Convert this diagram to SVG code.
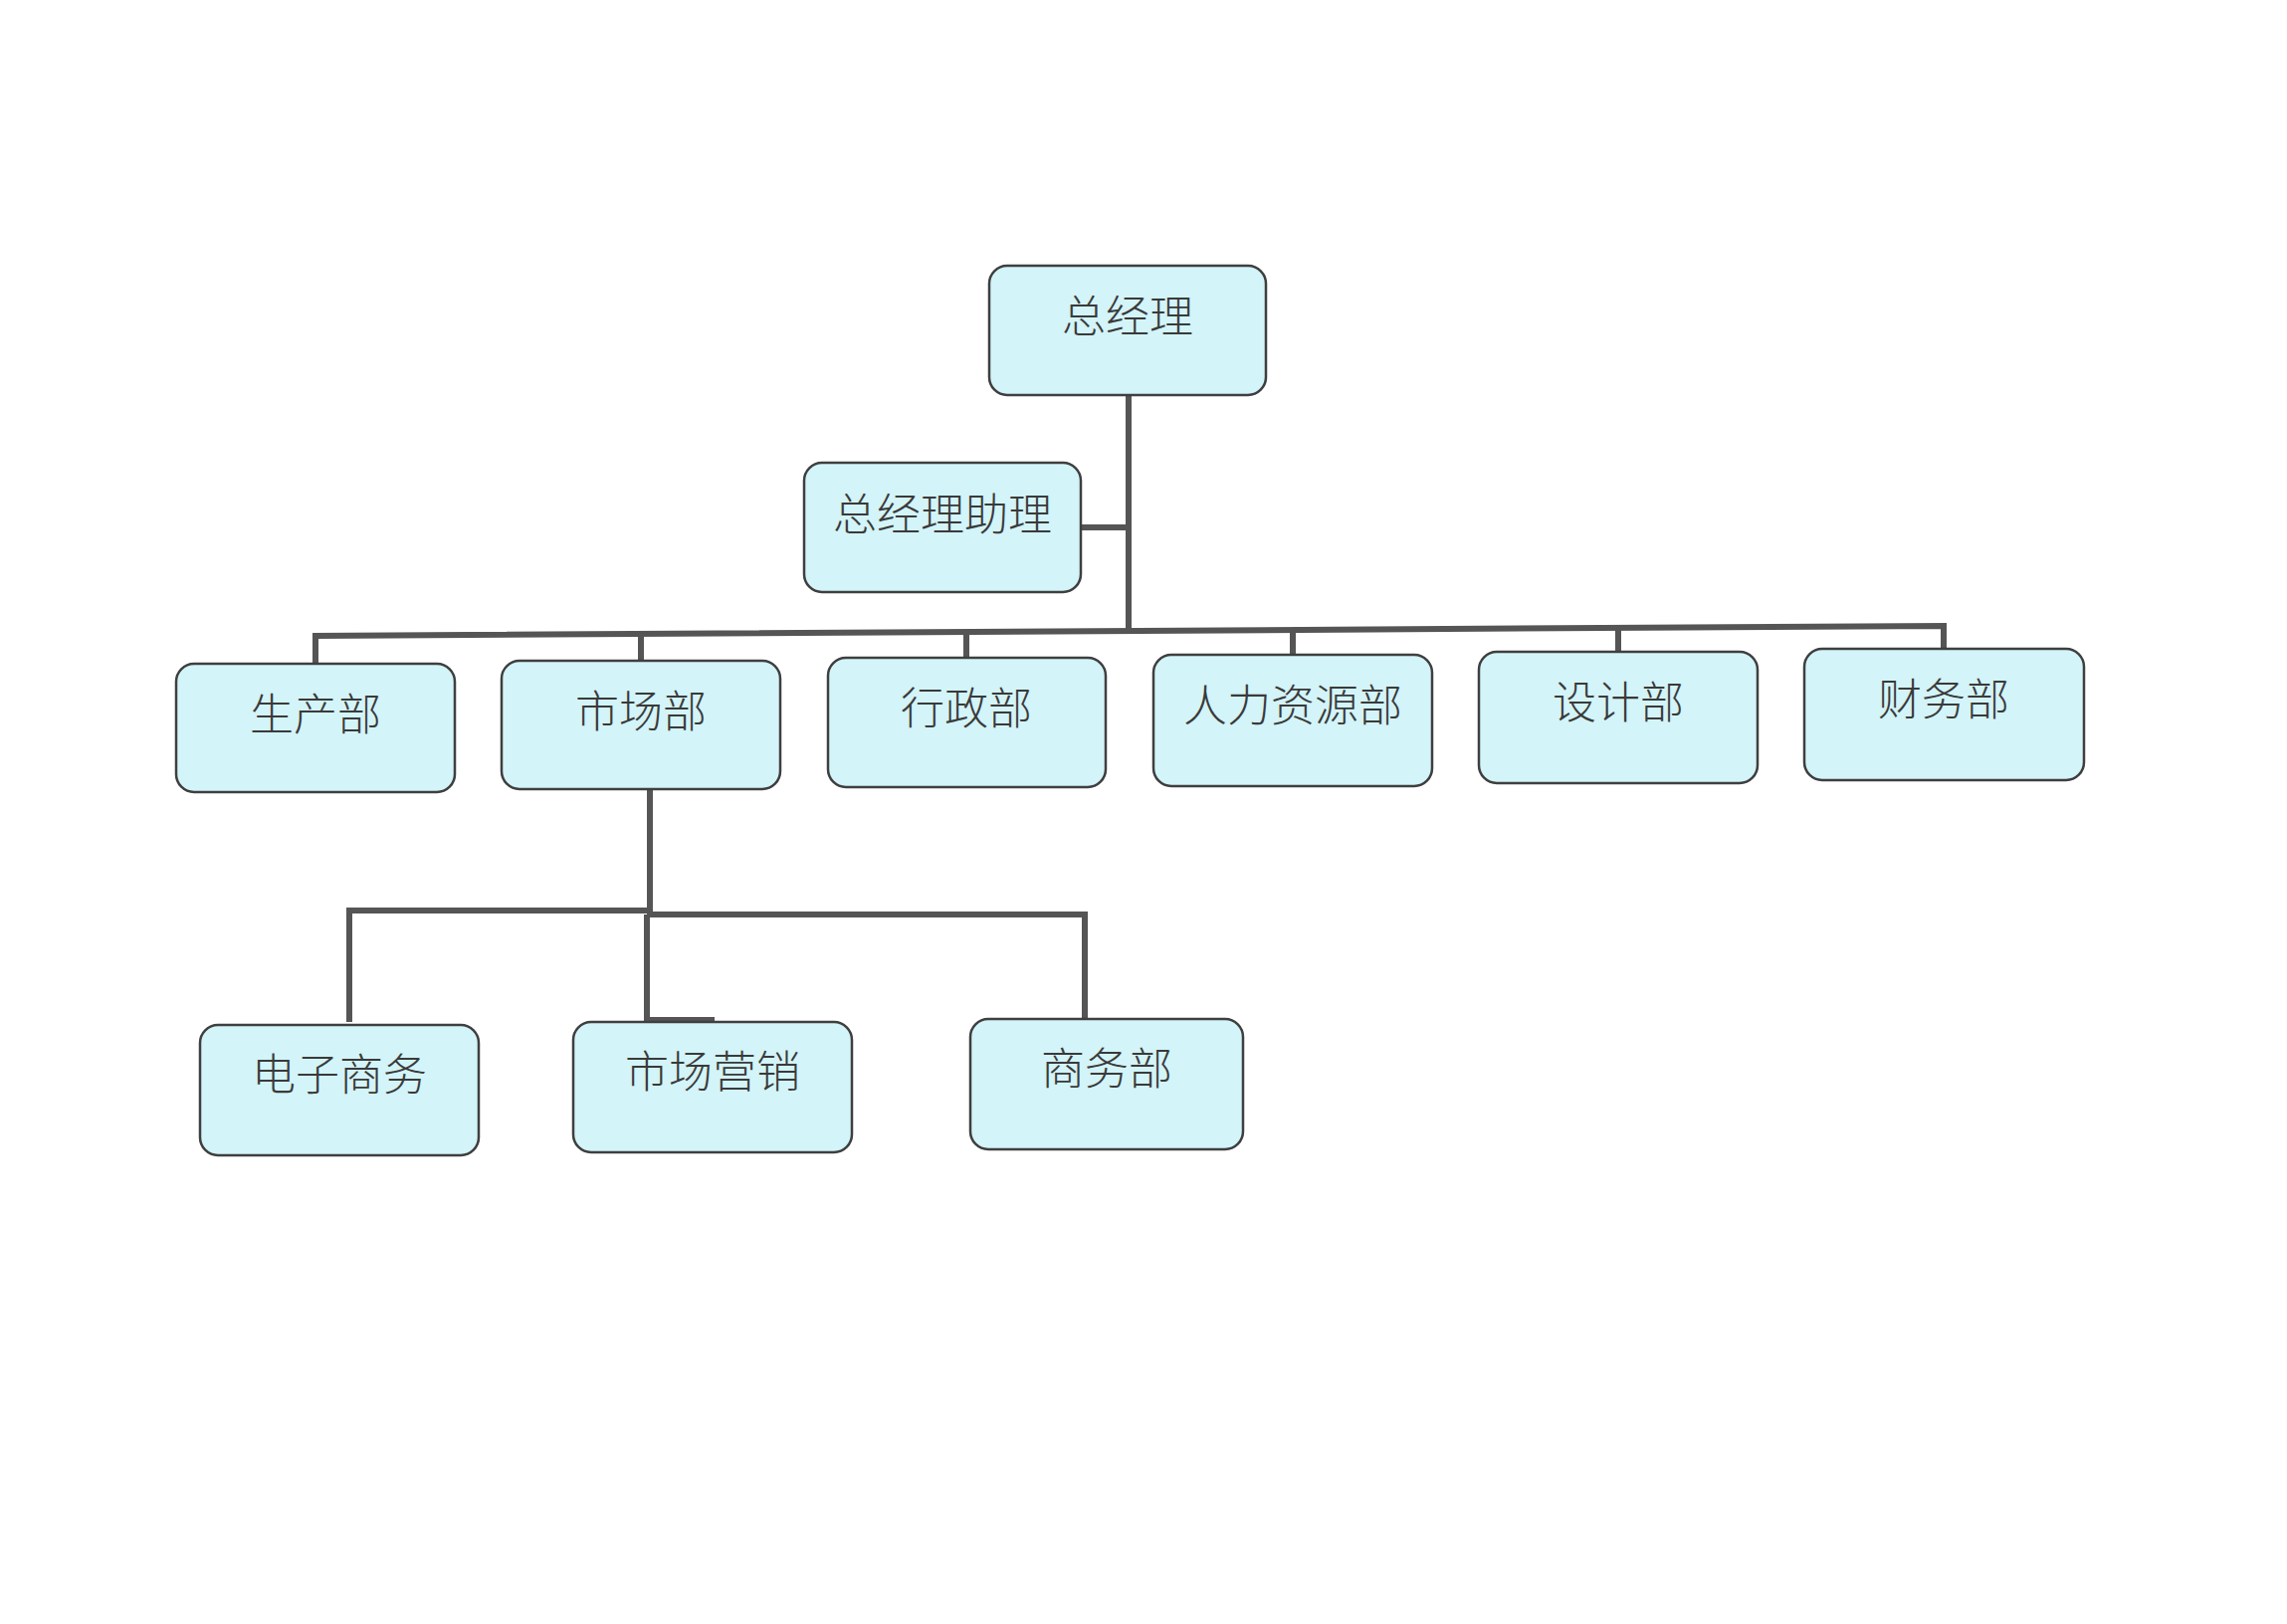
<svg xmlns="http://www.w3.org/2000/svg" width="2298" height="1632" viewBox="0 0 2298 1632">
<style>
.box{fill:#d3f4f8;stroke:#3f3f3f;stroke-width:2.5}
.lbl{font-family:"Noto Sans CJK SC","Noto Sans CJK TC",sans-serif;font-size:44px;fill:#3a3a3a;text-anchor:middle;dominant-baseline:central;font-weight:300}
.con{fill:none;stroke:#555;stroke-width:6;stroke-linejoin:miter;stroke-linecap:butt}
</style>
<rect width="2298" height="1632" fill="#ffffff"/>
<g id="connectors">
<path class="con" d="M1134,397 V636"/>
<path class="con" d="M1086,530 H1134"/>
<path class="con" d="M317,667 V639 L1953,629 V652"/>
<path class="con" d="M644,664 V637"/>
<path class="con" d="M971,661 V635"/>
<path class="con" d="M1299,658 V633"/>
<path class="con" d="M1626,655 V631"/>
<path class="con" d="M653,793 V919"/>
<path class="con" d="M351,1027 V915 H653"/>
<path class="con" d="M650,919 H1090 V1024"/>
<path class="con" d="M650,919 V1026"/>
<path class="con" d="M650,1025 H718"/>
</g>
<g id="n_gm"><rect class="box" x="994" y="267" width="278" height="130" rx="18"/><text class="lbl" x="1133" y="315">总经理</text></g>
<g id="n_asst"><rect class="box" x="808" y="465" width="278" height="130" rx="18"/><text class="lbl" x="947" y="514">总经理助理</text></g>
<g id="n_prod"><rect class="box" x="177" y="667" width="280" height="129" rx="18"/><text class="lbl" x="317" y="715">生产部</text></g>
<g id="n_mkt"><rect class="box" x="504" y="664" width="280" height="129" rx="18"/><text class="lbl" x="644" y="712">市场部</text></g>
<g id="n_admin"><rect class="box" x="832" y="661" width="279" height="130" rx="18"/><text class="lbl" x="971" y="709">行政部</text></g>
<g id="n_hr"><rect class="box" x="1159" y="658" width="280" height="132" rx="18"/><text class="lbl" x="1299" y="706">人力资源部</text></g>
<g id="n_design"><rect class="box" x="1486" y="655" width="280" height="132" rx="18"/><text class="lbl" x="1626" y="703">设计部</text></g>
<g id="n_fin"><rect class="box" x="1813" y="652" width="281" height="132" rx="18"/><text class="lbl" x="1953" y="700">财务部</text></g>
<g id="n_ecom"><rect class="box" x="201" y="1030" width="280" height="131" rx="18"/><text class="lbl" x="341" y="1077">电子商务</text></g>
<g id="n_mktsales"><rect class="box" x="576" y="1027" width="280" height="131" rx="18"/><text class="lbl" x="716" y="1074">市场营销</text></g>
<g id="n_biz"><rect class="box" x="975" y="1024" width="274" height="131" rx="18"/><text class="lbl" x="1112" y="1071">商务部</text></g>
</svg>
